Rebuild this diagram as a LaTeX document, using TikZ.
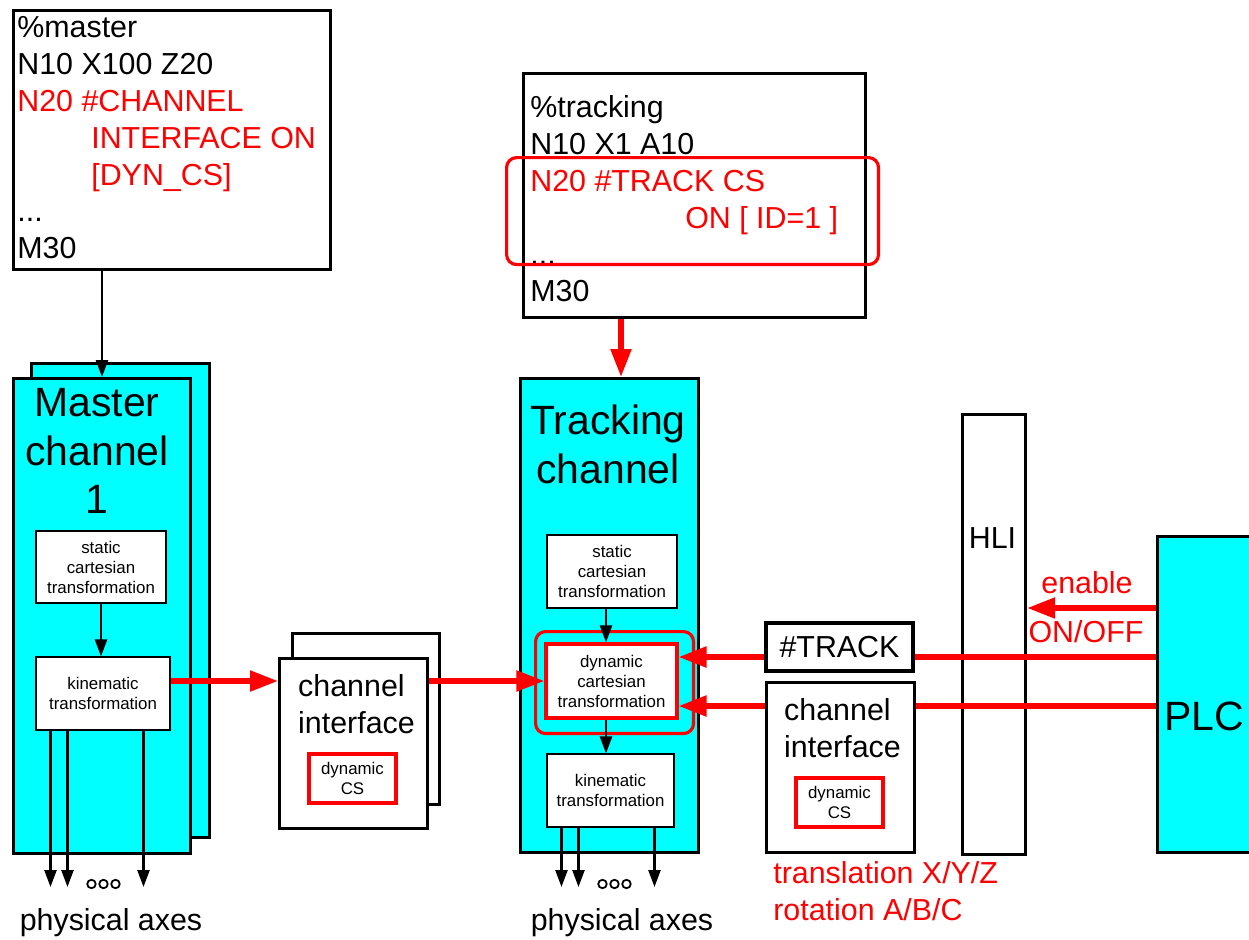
\documentclass[tikz,border=0pt]{standalone}
\usepackage{fontspec}
\setmainfont{Liberation Sans}
\usetikzlibrary{arrows.meta}
\definecolor{chancyan}{RGB}{0,255,255}
\definecolor{sigred}{RGB}{255,0,0}
\newcommand{\codefont}{\fontsize{17.3}{21}\selectfont}
\newcommand{\chanfont}{\fontsize{23.3}{27.8}\selectfont}
\newcommand{\trafofont}{\fontsize{9.6}{11.4}\selectfont}

\begin{document}
\begin{tikzpicture}[x=0.02cm,y=-0.02cm,
  boxframe/.style={draw, line width=1.8pt, inner sep=0pt, anchor=north west},
  chanbox/.style={boxframe, fill=chancyan},
  whitebox/.style={boxframe, fill=white},
  trafo/.style={draw, fill=white, line width=0.6pt, inner sep=0pt, align=center, font=\trafofont},
  dyncs/.style={trafo, draw=sigred, line width=1.8pt},
  redmark/.style={draw=sigred, line width=1.8pt, rounded corners=0.2cm, inner sep=0pt, anchor=north west},
  redflow/.style={sigred, line width=3pt, -{Triangle[length=0.56cm,width=0.4cm]}},
  redwire/.style={sigred, line width=3pt},
  thinarrow/.style={line width=1.4pt, -{Triangle[length=0.34cm,width=0.24cm]}}]
  \useasboundingbox (0,0) rectangle (1249,940);

  \node[whitebox, minimum width=6.34cm, minimum height=5.18cm] (mprog) at (12,9) {};
  \node[anchor=north west, align=left, inner sep=0pt, font=\codefont] (mcode) at (17,16)
    {\%master\\N10 X100 Z20\\\textcolor{sigred}{N20 \#CHANNEL}\\\hspace*{1.48cm}\textcolor{sigred}{INTERFACE ON}\\\hspace*{1.48cm}\textcolor{sigred}{[DYN\_CS]}\\...\\M30};

  \node[whitebox, minimum width=6.84cm, minimum height=4.88cm] (tprog) at (522,72) {};
  \node[anchor=north west, align=left, inner sep=0pt, font=\codefont] (tcode) at (530,95)
    {\%tracking\\N10 X1 A10\\\textcolor{sigred}{N20 \#TRACK CS}\\\hspace*{3.1cm}\textcolor{sigred}{ON [ ID=1 ]}\\...\\M30};
  \node[redmark, minimum width=7.44cm, minimum height=2.14cm] (tmark) at (505,156) {};

  \node[chanbox, minimum width=3.56cm, minimum height=9.48cm] (mchanback) at (30,362) {};
  \node[chanbox, minimum width=3.54cm, minimum height=9.5cm] (mchan) at (12,377) {};
  \node[font=\chanfont, align=center] (mtitle) at (97,451) {Master\\channel\\1};
  \node[trafo, minimum width=2.6cm, minimum height=1.44cm] (mstatic) at (101,567) {static\\cartesian\\transformation};
  \node[trafo, minimum width=2.68cm, minimum height=1.46cm] (mkin) at (103,693.5) {kinematic\\transformation};

  \node[whitebox, minimum width=2.94cm, minimum height=3.42cm] (lchifback) at (291,632) {};
  \node[whitebox, minimum width=2.96cm, minimum height=3.4cm] (lchif) at (278,657) {};
  \node[font=\codefont, align=left] (lchiftext) at (356.5,703.75) {channel\\interface};
  \node[dyncs, minimum width=1.74cm, minimum height=0.98cm] (lcs) at (352.5,778.5) {dynamic\\CS};

  \node[chanbox, minimum width=3.56cm, minimum height=9.48cm] (tchan) at (519,377) {};
  \node[font=\chanfont, align=center] (ttitle) at (608,444) {Tracking\\channel};
  \node[trafo, minimum width=2.6cm, minimum height=1.46cm] (tstatic) at (612,571.5) {static\\cartesian\\transformation};
  \node[redmark, minimum width=3.16cm, minimum height=2.04cm] (tmarkdyn) at (534,630) {};
  \node[dyncs, minimum width=2.62cm, minimum height=1.48cm] (tdyn) at (611.5,681) {dynamic\\cartesian\\transformation};
  \node[trafo, minimum width=2.54cm, minimum height=1.46cm] (tkin) at (610.5,790.5) {kinematic\\transformation};

  \node[draw, fill=white, line width=1.8pt, inner sep=0pt, minimum width=2.94cm, minimum height=0.96cm, font=\codefont] (track) at (839.5,647) {\#TRACK};
  \node[whitebox, minimum width=2.96cm, minimum height=3.4cm] (rchif) at (765,681) {};
  \node[font=\codefont, align=left] (rchiftext) at (842.5,727.75) {channel\\interface};
  \node[dyncs, minimum width=1.74cm, minimum height=0.98cm] (rcs) at (839.5,802.5) {dynamic\\CS};
  \node[font=\codefont, text=sigred, align=left, anchor=north west, inner sep=0pt] (motion) at (773,861.5) {translation X/Y/Z\\rotation A/B/C};

  \node[whitebox, minimum width=1.26cm, minimum height=8.8cm] (hli) at (961,413) {};
  \node[font=\codefont] (hlitext) at (992.5,538) {HLI};
  \node[chanbox, minimum width=2.4cm, minimum height=6.32cm] (plc) at (1156,535) {};
  \node[font=\chanfont] (plctext) at (1204,716) {PLC};
  \node[font=\codefont, text=sigred, anchor=base] (enable) at (1087,593) {enable};
  \node[font=\codefont, text=sigred, anchor=base] (onoff) at (1086,642) {ON/OFF};

  \coordinate (mdrop) at (102,0);
  \coordinate (tdrop) at (621,0);
  \coordinate (tlink) at (606,0);
  \coordinate (axend) at (0,887);
  \coordinate (dots) at (0,884);
  \coordinate (lenable) at (0,608);
  \coordinate (ltrack) at (0,657);
  \coordinate (lchifline) at (0,706);

  \draw[thinarrow] (mprog.south -| mdrop) -- (mchan.north -| mdrop);
  \draw[redflow] (tprog.south -| tdrop) -- (tchan.north -| tdrop);
  \draw[thinarrow] (mstatic.south) -- (mstatic.south |- mkin.north);
  \draw[thinarrow] (tstatic.south -| tlink) -- (tdyn.north -| tlink);
  \draw[thinarrow] (tdyn.south -| tlink) -- (tkin.north -| tlink);

  \foreach \k in {mkin,tkin} {
    \foreach \dx in {15,32,108} {
      \coordinate (axtop) at ([xshift=\dx*0.02cm]\k.south west);
      \draw[thinarrow] (axtop) -- (axtop |- axend);
    }
    \foreach \dx in {56,68,80} {
      \coordinate (dt) at ([xshift=\dx*0.02cm]\k.south west);
      \draw[line width=1pt] (dt |- dots) circle[radius=0.085cm];
    }
  }
  \node[font=\codefont, anchor=base] (maxes) at (111,930) {physical axes};
  \node[font=\codefont, anchor=base] (taxes) at (622,930) {physical axes};

  \draw[redflow] (mkin.east |- tdyn.west) -- (lchif.west |- tdyn.west);
  \draw[redflow] (lchif.east |- tdyn.west) -- (tdyn.west);

  \draw[redflow] (plc.west |- lenable) -- (hli.east |- lenable);
  \draw[redwire] (plc.west |- ltrack) -- (track.east |- ltrack);
  \draw[redflow] (track.west |- ltrack) -- (tdyn.east |- ltrack);
  \draw[redwire] (plc.west |- lchifline) -- (rchif.east |- lchifline);
  \draw[redflow] (rchif.west |- lchifline) -- (tdyn.east |- lchifline);
\end{tikzpicture}
\end{document}
